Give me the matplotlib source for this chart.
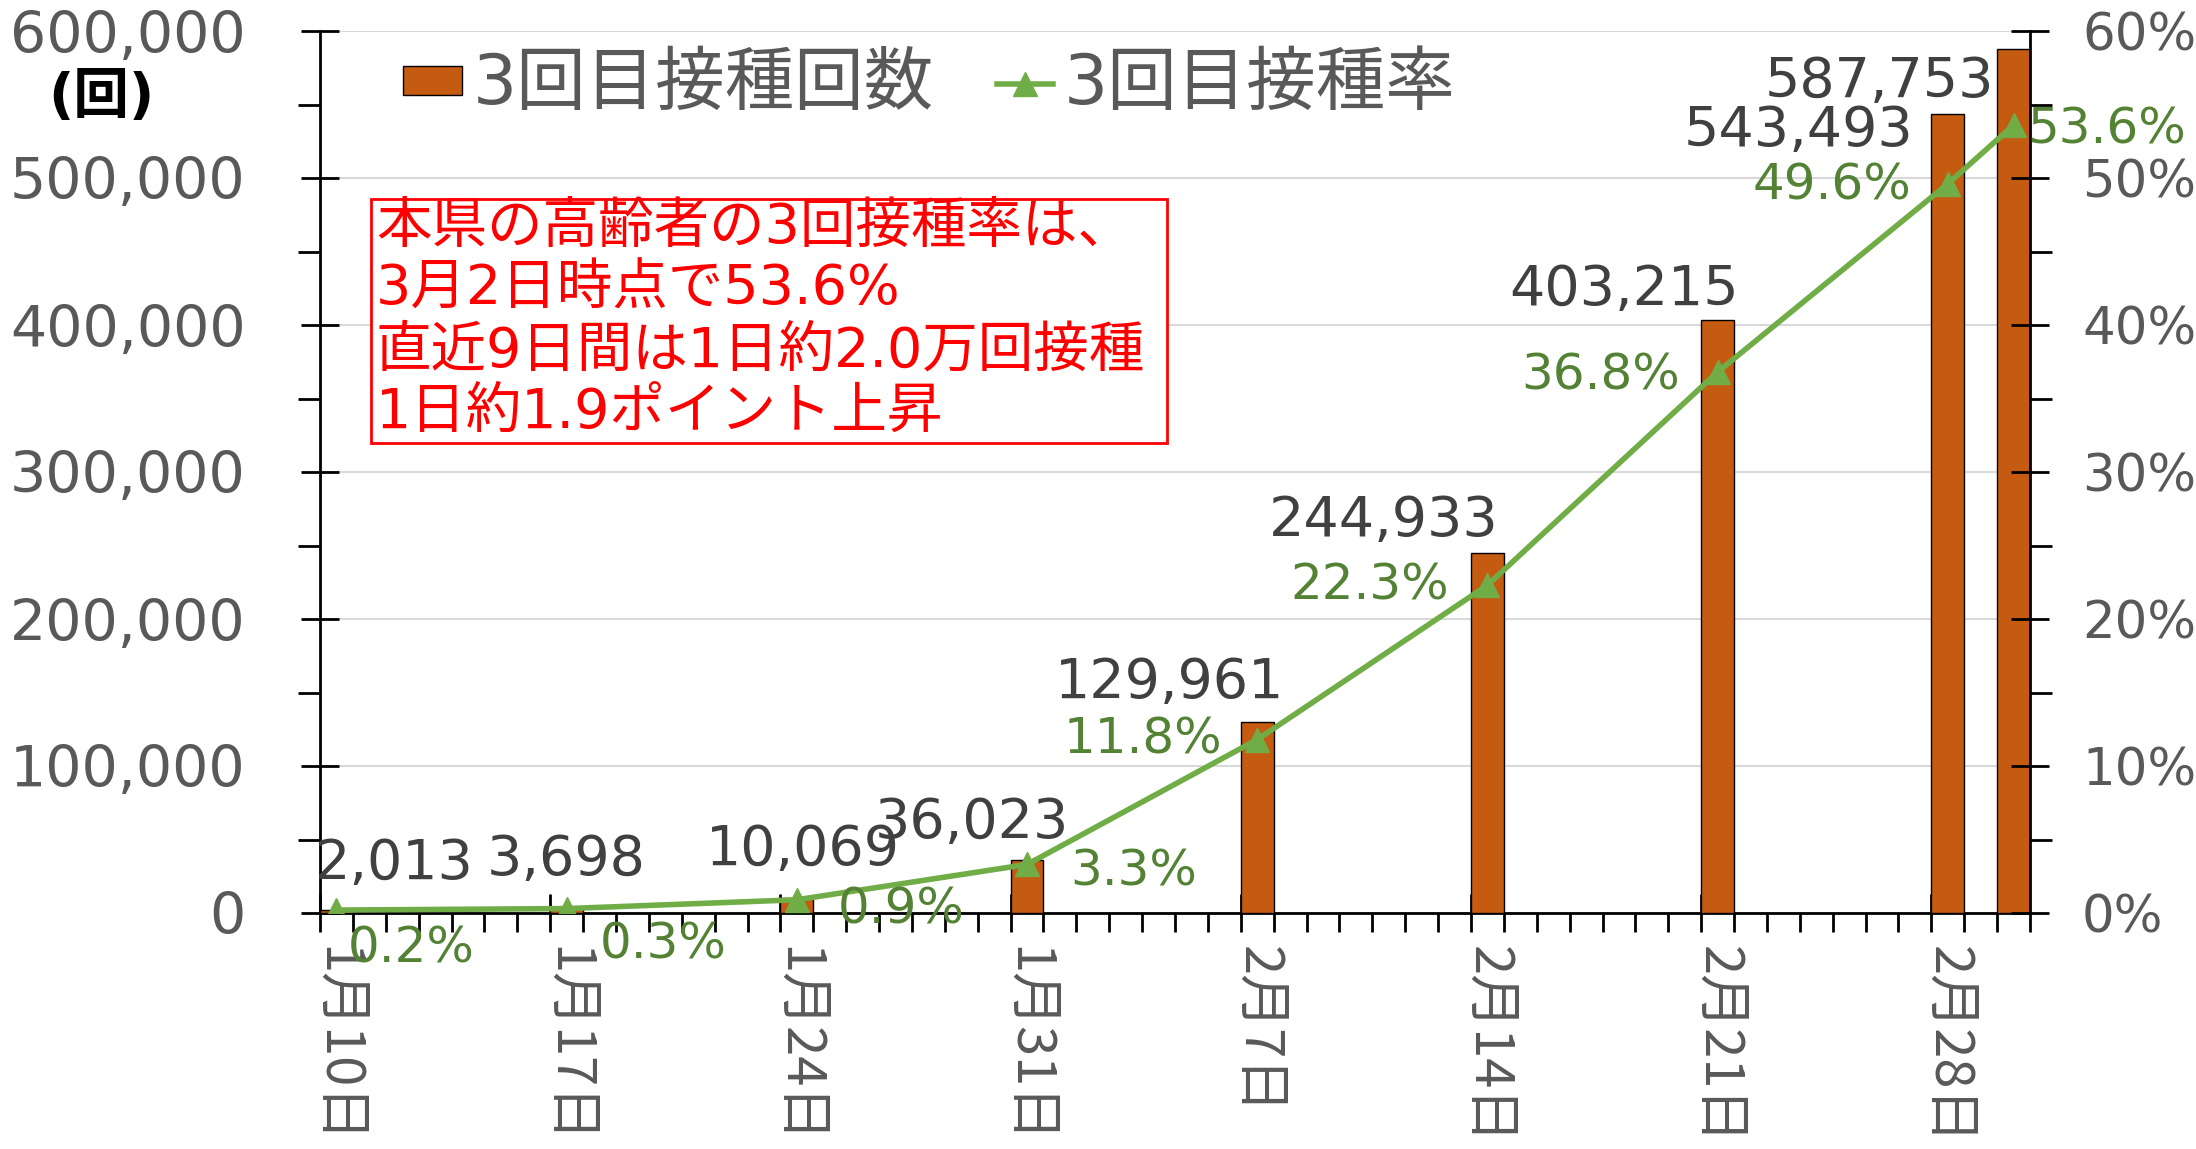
import numpy as np
import matplotlib
matplotlib.use('Agg')
from matplotlib import pyplot as plt
from matplotlib import transforms
from matplotlib.patches import Rectangle
from matplotlib.lines import Line2D

plt.rcParams['font.family'] = ['DejaVu Sans', 'Noto Sans CJK JP']

# data
dates = np.array(['2022-01-10', '2022-01-17', '2022-01-24', '2022-01-31', '2022-02-07',
                  '2022-02-14', '2022-02-21', '2022-02-28', '2022-03-02'], dtype='datetime64[D]')
doses = [2013, 3698, 10069, 36023, 129961, 244933, 403215, 543493, 587753]
rate = [0.2, 0.3, 0.9, 3.3, 11.8, 22.3, 36.8, 49.6, 53.6]
week_labels = ['1月10日', '1月17日', '1月24日', '1月31日', '2月7日', '2月14日', '2月21日', '2月28日']
start = np.datetime64('2022-01-10')
end = np.datetime64('2022-03-03')

note = ['本県の高齢者の3回接種率は、',
        '3月2日時点で53.6%',
        '直近9日間は1日約2.0万回接種',
        '1日約1.9ポイント上昇']

# label offsets in pixels (layout only)
bar_off = [(58, 46), (0, 48), (6, 48), (-55, 37), (-88, 39), (-104, 32), (-94, 30), (-149, -17), (-134, -33)]
rate_off = [(75, -38), (97, -36), (104, -10), (107, -7), (-114, 0), (-118, 0), (-117, -3), (-116, -2), (93, -4)]

BAR = '#C55A11'
LINE = '#70AD47'
LBL_GREEN = '#548235'
GRAY = '#595959'

W, H = 2196, 1149
fig = plt.figure(figsize=(W / 100, H / 100), dpi=100)


def fx(px):
    return px / W


def fy(py):
    return 1 - py / H


ax = fig.add_axes([fx(320), fy(913), 1710 / W, 882 / H])
ax2 = ax.twinx()

x = (dates - start).astype(int)
ndays = int((end - start).astype(int))

ax.bar(x, doses, width=1, align='edge', color=BAR, edgecolor='black', linewidth=1, zorder=3)
ax2.plot(x + 0.5, rate, color=LINE, lw=4, marker='^', ms=17, zorder=4)

ax.set_xlim(0, ndays)
ax.set_ylim(0, 600000)
ax2.set_ylim(0, 60)

# left axis
ax.set_yticks(np.arange(0, 600001, 100000))
ax.set_yticklabels(['{:,}'.format(v) for v in range(0, 600001, 100000)])
ax.set_yticks(np.arange(50000, 600000, 100000), minor=True)
ax.tick_params(axis='y', which='major', direction='inout', length=27, width=2,
               labelsize=41, labelcolor=GRAY, pad=40)
ax.tick_params(axis='y', which='minor', direction='out', length=16, width=2)
ax.yaxis.grid(True, which='major', color='#D9D9D9', lw=1.5)
ax.set_axisbelow(True)

# right axis
ax2.set_yticks(np.arange(0, 61, 10))
ax2.set_yticklabels(['{}%'.format(v) for v in range(0, 61, 10)])
ax2.set_yticks(np.arange(5, 60, 10), minor=True)
ax2.tick_params(axis='y', which='major', direction='inout', length=27, width=2,
                labelsize=37, labelcolor=GRAY, pad=24)
ax2.tick_params(axis='y', which='minor', direction='out', length=16, width=2)

# x axis: daily minor ticks, weekly major ticks, labels centred in the day slot
ax.set_xticks(x[:len(week_labels)])
ax.set_xticklabels(week_labels, rotation=-90, va='top', ha='center',
                   fontfamily=['Noto Sans CJK JP'], fontsize=39, color=GRAY)
ax.set_xticks(np.arange(0, ndays + 1), minor=True)
ax.tick_params(axis='x', which='major', direction='inout', length=27, width=2, pad=10)
ax.tick_params(axis='x', which='minor', direction='out', length=14, width=2)
half = transforms.ScaledTranslation(1710 / ndays / 2 / 100, 0, fig.dpi_scale_trans)
for lab in ax.get_xticklabels():
    lab.set_transform(lab.get_transform() + half)

for a in (ax, ax2):
    a.spines['top'].set_visible(False)
    for s in a.spines.values():
        s.set_linewidth(2)
        s.set_color('black')
ax.spines['right'].set_visible(False)
ax2.spines['left'].set_visible(False)
ax2.spines['bottom'].set_visible(False)

# data labels
for xi, v, (dx, dy) in zip(x, doses, bar_off):
    ax2.annotate('{:,}'.format(v), xy=(xi + 0.5, v / 10000), xytext=(dx, dy),
                 textcoords='offset pixels', ha='center', va='center',
                 fontsize=40, color='#404040', zorder=5)
for xi, r, (dx, dy) in zip(x, rate, rate_off):
    ax2.annotate('{}%'.format(r), xy=(xi + 0.5, r), xytext=(dx, dy),
                 textcoords='offset pixels', ha='center', va='center',
                 fontsize=36, color=LBL_GREEN, zorder=5)

# unit label
fig.text(fx(101), fy(98), '(回)', ha='center', va='center', fontsize=40,
         fontweight='bold', color='black')

# legend drawn by hand
fig.add_artist(Rectangle((fx(403), fy(95)), fx(462) - fx(403), fy(66) - fy(95),
                         transform=fig.transFigure, facecolor=BAR, edgecolor='black', lw=1))
fig.text(fx(473), fy(84), '3回目接種回数', ha='left', va='center', fontsize=50, color=GRAY)
fig.add_artist(Line2D([fx(997), fx(1053)], [fy(84), fy(84)], transform=fig.transFigure,
                      color=LINE, lw=4))
fig.add_artist(Line2D([fx(1025)], [fy(84)], transform=fig.transFigure,
                      color=LINE, marker='^', ms=17, lw=0))
fig.text(fx(1064), fy(84), '3回目接種率', ha='left', va='center', fontsize=50, color=GRAY)

# note box
fig.add_artist(Rectangle((fx(371), fy(443)), fx(1167) - fx(371), fy(199) - fy(443),
                         transform=fig.transFigure, facecolor='white', edgecolor='red', lw=2, zorder=6))
for i, line in enumerate(note):
    fig.text(fx(376), fy(228 + i * 61.5), line, ha='left', va='center',
             fontsize=40, color='red', zorder=7)

fig.savefig('out.png', dpi=100)
